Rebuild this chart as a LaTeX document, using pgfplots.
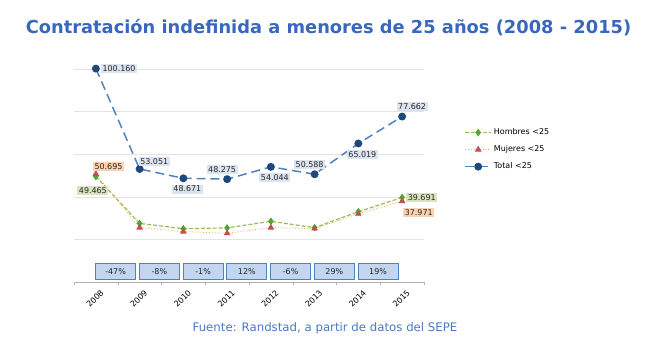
\documentclass[border=0pt]{standalone}
\usepackage{pgfplots}
\pgfplotsset{compat=1.18}
\usepackage{fontspec}
\setmainfont{DejaVu Sans}
\definecolor{titleblue}{HTML}{3A67BE}
\definecolor{srcblue}{HTML}{4A78C4}
\definecolor{totline}{HTML}{4F81BD}
\definecolor{totmark}{HTML}{1F497D}
\definecolor{homline}{HTML}{9BBB59}
\definecolor{hommark}{HTML}{4EA72E}
\definecolor{mujline}{HTML}{F7A75E}
\definecolor{mujmark}{HTML}{C0504D}
\definecolor{totlab}{HTML}{DCE4EF}
\definecolor{homlab}{HTML}{D7E4BD}
\definecolor{mujlab}{HTML}{FBD3B3}
\definecolor{pctfill}{HTML}{C2D6F0}
\begin{document}
\begin{tikzpicture}[x=1bp,y=1bp]
\useasboundingbox (0,0) rectangle (660,349);
\node[font=\fontsize{17.9}{20}\selectfont\bfseries, text=titleblue] at (328.5,321) {Contratación indefinida a menores de 25 años (2008 - 2015)};
\node[font=\fontsize{11.8}{13}\selectfont, text=srcblue] at (325,21) {Fuente: Randstad, a partir de datos del SEPE};
\begin{axis}[
  at={(74bp,67bp)}, anchor=south west,
  scale only axis, width=350bp, height=222bp,
  xmin=-0.5, xmax=7.5, ymin=0, ymax=104200,
  scaled y ticks=false,
  axis x line*=bottom, axis y line*=left,
  y axis line style={draw=none},
  x axis line style={draw=gray!60, line width=0.6pt},
  ytick={20000,40000,60000,80000,100000}, yticklabels={},
  ytick style={draw=none},
  ymajorgrids, grid style={gray!22, line width=0.5pt},
  xtick={0,...,7}, xticklabels={2008,2009,2010,2011,2012,2013,2014,2015},
  major x tick style={draw=none},
  minor xtick={-0.5,0.5,...,7.5},
  minor x tick style={draw=gray!60},
  minor tick length=3bp, tick align=outside,
  xticklabel style={rotate=45, anchor=north east, font=\fontsize{8}{9}\selectfont, inner sep=0pt, yshift=-5bp, xshift=1bp},
  legend style={at={(1.115,0.70)}, anchor=north west, draw=none, fill=none,
    font=\fontsize{8}{10}\selectfont, row sep=5.5bp, inner sep=0pt},
  legend cell align=left,
  legend image code/.code={\draw[mark repeat=2,mark phase=2] plot coordinates {(0bp,0bp) (13bp,0bp) (26bp,0bp)};},
  clip=false,
]
% Series
\addplot[homline, line width=1.2pt, dash pattern=on 4pt off 2pt, mark=diamond*, mark size=2.8pt,
  mark options={solid, fill=hommark, draw=hommark}]
  coordinates {(0,49465) (1,27500) (2,25000) (3,25400) (4,28500) (5,25500) (6,33000) (7,39691)};
\addlegendentry{Hombres <25}
\addplot[mujline, line width=0.9pt, dotted, mark=triangle*, mark size=3pt,
  mark options={solid, fill=mujmark, draw=mujmark}]
  coordinates {(0,50695) (1,25551) (2,23671) (3,22875) (4,25544) (5,25088) (6,32019) (7,37971)};
\addlegendentry{Mujeres <25}
\addplot[totline, line width=1.5pt, dash pattern=on 9pt off 5pt, mark=*, mark size=3.2pt,
  mark options={solid, fill=totmark, draw=totmark}]
  coordinates {(0,100160) (1,53051) (2,48671) (3,48275) (4,54044) (5,50588) (6,65019) (7,77662)};
\addlegendentry{Total <25}
% Data labels
\pgfplotsset{lab/.style={forget plot, draw=none, no marks, nodes near coords, point meta=explicit symbolic,
  nodes near coords style={font=\fontsize{8}{9}\selectfont, fill=#1, inner sep=1.5pt, text=black!85}}}
\addplot[lab=totlab, nodes near coords style={anchor=west, xshift=5bp}]
  coordinates {(0,100160) [100.160]};
\addplot[lab=totlab, nodes near coords style={anchor=south west, xshift=-1bp, yshift=3bp}]
  coordinates {(1,53051) [53.051]};
\addplot[lab=totlab, nodes near coords style={anchor=north, yshift=-6bp, xshift=4bp}]
  coordinates {(2,48671) [48.671] (4,54044) [54.044] (6,65019) [65.019]};
\addplot[lab=totlab, nodes near coords style={anchor=south, yshift=5bp, xshift=-5bp}]
  coordinates {(3,48275) [48.275] (5,50588) [50.588]};
\addplot[lab=totlab, nodes near coords style={anchor=south, yshift=5bp, xshift=10bp}]
  coordinates {(7,77662) [77.662]};
\addplot[lab=homlab, nodes near coords style={anchor=north, yshift=-9bp, xshift=-3bp}]
  coordinates {(0,49465) [49.465]};
\addplot[lab=homlab, nodes near coords style={anchor=west, xshift=4bp}]
  coordinates {(7,39691) [39.691]};
\addplot[lab=mujlab, nodes near coords style={anchor=south west, xshift=-3bp, yshift=3bp}]
  coordinates {(0,50695) [50.695]};
\addplot[lab=mujlab, nodes near coords style={anchor=north west, xshift=1bp, yshift=-7bp}]
  coordinates {(7,37971) [37.971]};
% Year-on-year change boxes
\addplot[forget plot, draw=none, no marks, nodes near coords, point meta=explicit symbolic,
  nodes near coords style={anchor=center, font=\fontsize{8}{9}\selectfont, fill=pctfill, draw=totline,
    line width=0.9pt, minimum width=40bp, minimum height=16bp, inner sep=0pt, text=black!85}]
  coordinates {(0.45,4900) [-47\%] (1.45,4900) [-8\%] (2.45,4900) [-1\%] (3.45,4900) [12\%]
               (4.45,4900) [-6\%] (5.45,4900) [29\%] (6.45,4900) [19\%]};
\end{axis}
\end{tikzpicture}
\end{document}
